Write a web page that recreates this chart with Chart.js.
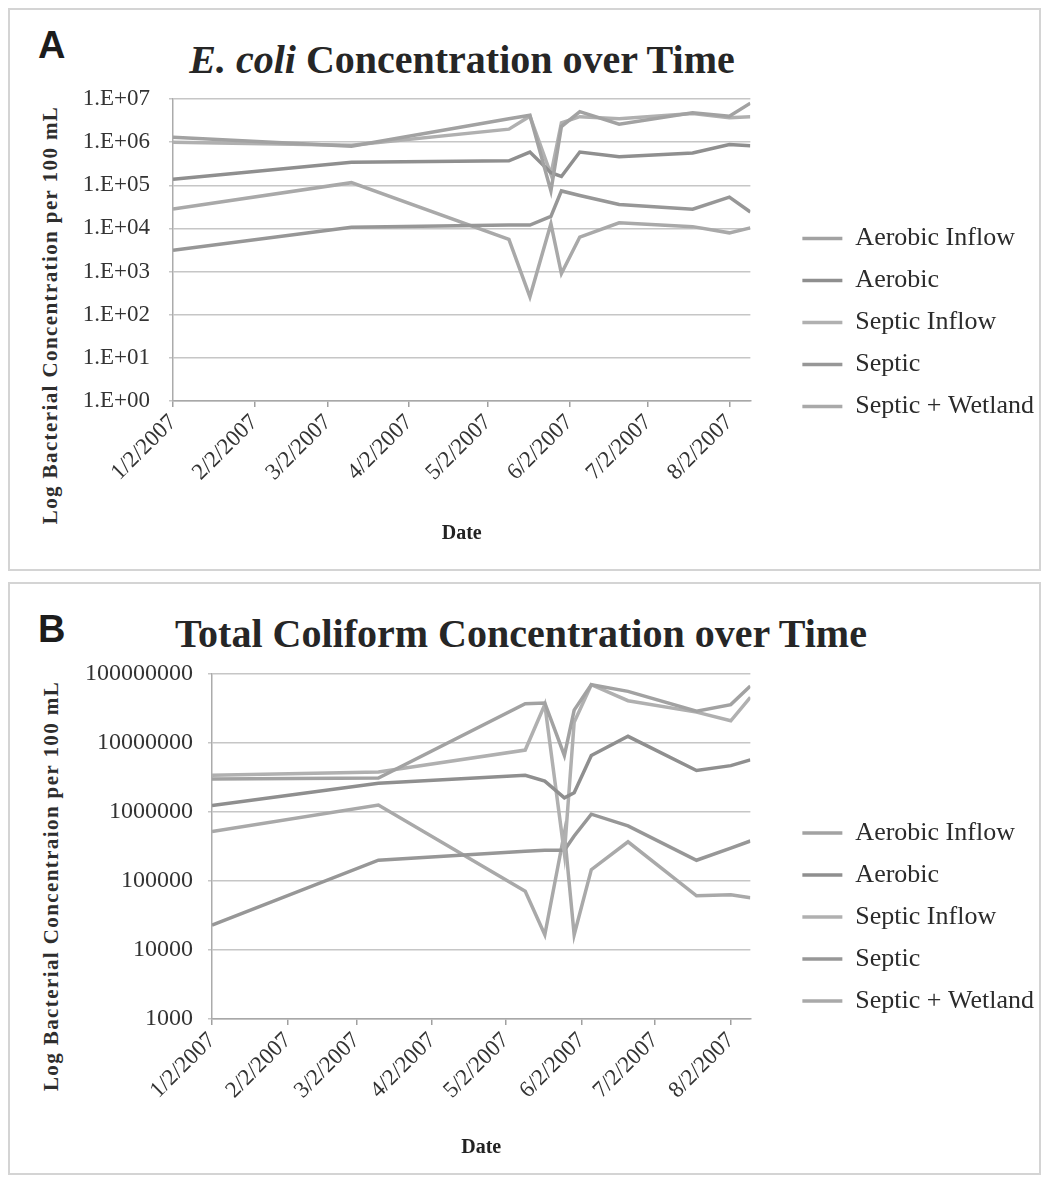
<!DOCTYPE html>
<html>
<head>
<meta charset="utf-8">
<script src="https://cdn.jsdelivr.net/npm/chart.js@4.4.1/dist/chart.umd.min.js"></script>
<style>
  body { margin: 0; background: #fff; width: 1041px; height: 1177px; position: relative; overflow: hidden;
         font-family: 'Liberation Serif', 'Times New Roman', serif; color: #222; }
  .panel { position: absolute; left: 8px; width: 1033px; border: 2px solid #d4d4d4; box-sizing: border-box; }
  #panelA { top: 8px; height: 563px; }
  #panelB { top: 582px; height: 593px; }
  .letter { position: absolute; font-family: 'Liberation Sans', Arial, sans-serif; font-weight: bold;
            font-size: 38px; line-height: 1; color: #1c1c1c; }
  .title { position: absolute; font-weight: bold; font-size: 40px; white-space: nowrap; color: #262626;
           transform: translate(-50%, -50%); }
  .ytitle { position: absolute; font-weight: bold; font-size: 21px; letter-spacing: 1.4px; white-space: nowrap;
            color: #2e2e2e; transform: translate(-50%, -50%) rotate(-90deg); }
  .plot { position: absolute; }
</style>
</head>
<body>
<div class="panel" id="panelA"></div>
<div class="panel" id="panelB"></div>

<div class="letter" style="left:38px; top:26px;">A</div>
<div class="title" style="left:462px; top:59px;"><i>E. coli</i> Concentration over Time</div>
<div class="ytitle" style="left:50px; top:315px;">Log Bacterial Concentration per 100 mL</div>
<canvas class="plot" id="chartA" width="984" height="475" style="left:60px; top:85px;"></canvas>

<div class="letter" style="left:38px; top:610px;">B</div>
<div class="title" style="left:521px; top:633px;">Total Coliform Concentration over Time</div>
<div class="ytitle" style="left:51px; top:886px;">Log Bacterial Concentraion per 100 mL</div>
<canvas class="plot" id="chartB" width="984" height="514" style="left:60px; top:660px;"></canvas>

<script>
// sampling dates shared by every series
const sampleDates = ['2007-01-02', '2007-03-11', '2007-05-10', '2007-05-18', '2007-05-26', '2007-05-30',
                     '2007-06-06', '2007-06-21', '2007-07-19', '2007-08-02', '2007-08-10'];
const axisEndDate = '2007-08-10';
const tickDates = ['2007-01-02', '2007-02-02', '2007-03-02', '2007-04-02',
                   '2007-05-02', '2007-06-02', '2007-07-02', '2007-08-02'];
const tickLabels = ['1/2/2007', '2/2/2007', '3/2/2007', '4/2/2007', '5/2/2007', '6/2/2007', '7/2/2007', '8/2/2007'];

const seriesNames = ['Aerobic Inflow', 'Aerobic', 'Septic Inflow', 'Septic', 'Septic + Wetland'];

// E. coli (panel A)
const ecoliAerobicInflow = [1300000, 800000, 3500000, 4200000, 74000, 2300000, 5100000, 2600000, 4800000, 4000000, 8000000];
const ecoliAerobic = [138000, 340000, 370000, 590000, 195000, 160000, 590000, 460000, 560000, 880000, 820000];
const ecoliSepticInflow = [1000000, 850000, 2000000, 4000000, 180000, 2800000, 3900000, 3500000, 4600000, 3700000, 3900000];
const ecoliSeptic = [3100, 10700, 12000, 12000, 19000, 74000, 58000, 36000, 28000, 53000, 24000];
const ecoliSepticWetland = [28000, 115000, 5600, 260, 12800, 900, 6300, 13500, 11000, 7900, 10300];
const ecoliTickLabels = ['1.E+00', '1.E+01', '1.E+02', '1.E+03', '1.E+04', '1.E+05', '1.E+06', '1.E+07'];

// Total coliform (panel B)
const coliformAerobicInflow = [3000000, 3100000, 37000000, 38000000, 6600000, 30000000, 70000000, 56000000, 29000000, 36000000, 67000000];
const coliformAerobic = [1240000, 2600000, 3400000, 2800000, 1600000, 1900000, 6600000, 12500000, 4000000, 4700000, 5700000];
const coliformSepticInflow = [3400000, 3800000, 7900000, 36000000, 250000, 20000000, 70000000, 41000000, 28000000, 21000000, 46000000];
const coliformSeptic = [23000, 200000, 270000, 280000, 280000, 450000, 930000, 630000, 200000, 300000, 380000];
const coliformSepticWetland = [520000, 1260000, 71000, 16600, 500000, 16600, 146000, 370000, 61000, 63000, 57000];
const coliformTickLabels = ['1000', '10000', '100000', '1000000', '10000000', '100000000'];

const lineColors = ['#a2a2a2', '#8f8f8f', '#b0b0b0', '#979797', '#a9a9a9'];

Chart.defaults.font.family = "'Liberation Serif', 'Times New Roman', serif";

// days since 1/2/2007
const ORIGIN = Date.UTC(2007, 0, 2);
function dayOf(s) {
  const [y, m, d] = s.split('-').map(Number);
  return (Date.UTC(y, m - 1, d) - ORIGIN) / 86400000;
}

function renderPanel(canvasId, seriesList, yLabels, cfg) {
  const canvas = document.getElementById(canvasId);
  const ctx = canvas.getContext('2d');

  return new Chart(ctx, {
    type: 'line',
    data: {
      datasets: seriesList.map((vals, i) => ({
        label: seriesNames[i],
        data: vals.map((v, j) => ({ x: dayOf(sampleDates[j]), y: v })),
        borderColor: lineColors[i],
        backgroundColor: lineColors[i],
        borderWidth: 3.5,
        pointRadius: 0,
        pointStyle: 'line',
        tension: 0,
      })),
    },
    options: {
      responsive: false,
      animation: false,
      layout: { padding: 0 },
      plugins: {
        legend: {
          position: 'right',
          align: 'center',
          maxWidth: 320,
          labels: {
            usePointStyle: true,
            pointStyleWidth: 40,
            padding: 16,
            color: '#2b2b2b',
            font: { size: 26 },
          },
        },
        tooltip: { enabled: false },
      },
      scales: {
        x: {
          type: 'linear',
          min: 0,
          max: dayOf(axisEndDate),
          afterBuildTicks: (s) => { s.ticks = tickDates.map((d) => ({ value: dayOf(d) })); },
          ticks: {
            callback: (v, i) => tickLabels[i],
            autoSkip: false,
            minRotation: 45,
            maxRotation: 45,
            padding: 2,
            color: '#333',
            font: { size: 23 },
          },
          grid: { drawOnChartArea: false, drawTicks: true, tickLength: 6, color: '#a0a0a0', lineWidth: 1.5 },
          border: { color: '#a8a8a8', width: 1.5 },
          title: {
            display: true,
            text: 'Date',
            color: '#222',
            font: { size: 20, weight: 'bold' },
            padding: { top: 0, bottom: 14 },
          },
          afterFit: (s) => { s.height = cfg.xAxisHeight; },
        },
        y: {
          type: 'logarithmic',
          min: Number(yLabels[0]),
          max: Number(yLabels[yLabels.length - 1]),
          afterBuildTicks: (s) => { s.ticks = yLabels.map((l) => ({ value: Number(l) })); },
          ticks: {
            callback: (v, i) => yLabels[i],
            padding: cfg.yTickPad,
            color: '#333',
            font: { size: cfg.yFont },
          },
          grid: { color: '#c6c6c6', lineWidth: 1.5, tickLength: 4 },
          border: { color: '#ababab', width: 1.5 },
          afterFit: (s) => {
            s.width = cfg.yAxisWidth;
            s.paddingTop = 14;
            s.paddingBottom = 14;
          },
        },
        // empty axis: keeps a gap between plot and legend
        gap: {
          type: 'linear',
          axis: 'y',
          position: 'right',
          grid: { display: false },
          border: { display: false },
          ticks: { display: false },
          afterFit: (s) => { s.width = 36; },
        },
      },
    },
  });
}

renderPanel('chartA',
  [ecoliAerobicInflow, ecoliAerobic, ecoliSepticInflow, ecoliSeptic, ecoliSepticWetland],
  ecoliTickLabels,
  { yAxisWidth: 113, yTickPad: 19, yFont: 23, xAxisHeight: 159 });

renderPanel('chartB',
  [coliformAerobicInflow, coliformAerobic, coliformSepticInflow, coliformSeptic, coliformSepticWetland],
  coliformTickLabels,
  { yAxisWidth: 152, yTickPad: 15, yFont: 24, xAxisHeight: 155 });
</script>
</body>
</html>
